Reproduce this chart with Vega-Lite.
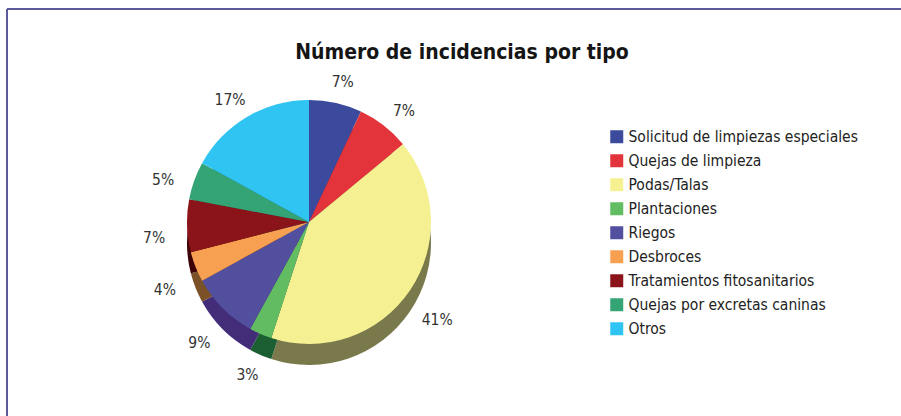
{
  "$schema": "https://vega.github.io/schema/vega-lite/v6.json",
  "width": 894,
  "height": 407,
  "autosize": {"type": "none"},
  "padding": {"left": 7, "top": 9, "right": 0, "bottom": 0},
  "background": "white",
  "view": {"stroke": "#5a5a9c", "strokeWidth": 2, "strokeDash": [894, 1301, 407, 0]},
  "config": {
    "view": {"stroke": "#5a5a9c", "strokeWidth": 2, "strokeDash": [894, 1301, 407, 0]},
    "font": "DejaVu Sans Condensed, sans-serif"
  },
  "title": {
    "text": "Número de incidencias por tipo",
    "fontSize": 21,
    "fontWeight": "bold",
    "color": "#151515",
    "anchor": "middle",
    "offset": -54,
    "dx": 8,
    "font": "DejaVu Sans Condensed, sans-serif"
  },
  "data": {
    "values": [
      {"tipo": "Solicitud de limpiezas especiales", "pct": 0.07},
      {"tipo": "Quejas de limpieza", "pct": 0.07},
      {"tipo": "Podas/Talas", "pct": 0.41},
      {"tipo": "Plantaciones", "pct": 0.03},
      {"tipo": "Riegos", "pct": 0.09},
      {"tipo": "Desbroces", "pct": 0.04},
      {"tipo": "Tratamientos fitosanitarios", "pct": 0.07},
      {"tipo": "Quejas por excretas caninas", "pct": 0.05},
      {"tipo": "Otros", "pct": 0.17}
    ]
  },
  "transform": [{"window": [{"op": "row_number", "as": "idx"}]}],
  "layer": [
    {
      "mark": {"type": "arc", "radius": 122, "x": 302, "y": 234},
      "encoding": {
        "theta": {"field": "pct", "type": "quantitative", "stack": true},
        "order": {"field": "idx", "type": "quantitative"},
        "color": {
          "field": "tipo",
          "type": "nominal",
          "scale": {
            "domain": ["Solicitud de limpiezas especiales", "Quejas de limpieza", "Podas/Talas", "Plantaciones", "Riegos", "Desbroces", "Tratamientos fitosanitarios", "Quejas por excretas caninas", "Otros"],
            "range": ["#222c6a", "#8a1c20", "#79794b", "#1a5e31", "#432c78", "#7b5227", "#3d0205", "#1d5e42", "#1a6c86"]
          },
          "legend": null
        }
      }
    },
    {
      "mark": {"type": "arc", "radius": 122, "x": 302, "y": 213},
      "encoding": {
        "theta": {"field": "pct", "type": "quantitative", "stack": true},
        "order": {"field": "idx", "type": "quantitative"},
        "color": {
          "field": "tipo",
          "type": "nominal",
          "scale": {
            "domain": ["Solicitud de limpiezas especiales", "Quejas de limpieza", "Podas/Talas", "Plantaciones", "Riegos", "Desbroces", "Tratamientos fitosanitarios", "Quejas por excretas caninas", "Otros"],
            "range": ["#3b4a9c", "#e3343b", "#f5f192", "#62bd62", "#524f9e", "#f7a052", "#8b141a", "#35a475", "#30c4f2"]
          },
          "legend": {
            "orient": "none",
            "legendX": 602,
            "legendY": 120,
            "title": null,
            "symbolType": "square",
            "symbolSize": 169,
            "symbolStrokeWidth": 0,
            "labelFontSize": 15.5,
            "labelColor": "#222222",
            "labelOffset": 4,
            "rowPadding": 7,
            "labelLimit": 400,
            "padding": 0
          }
        }
      }
    },
    {
      "mark": {"type": "text", "radius": 155, "x": 302, "y": 224, "fontSize": 15.5, "color": "#333333"},
      "encoding": {
        "theta": {"field": "pct", "type": "quantitative", "stack": true},
        "order": {"field": "idx", "type": "quantitative"},
        "text": {"field": "pct", "type": "quantitative", "format": ".0%"}
      }
    }
  ],
  "resolve": {"scale": {"color": "independent"}}
}
